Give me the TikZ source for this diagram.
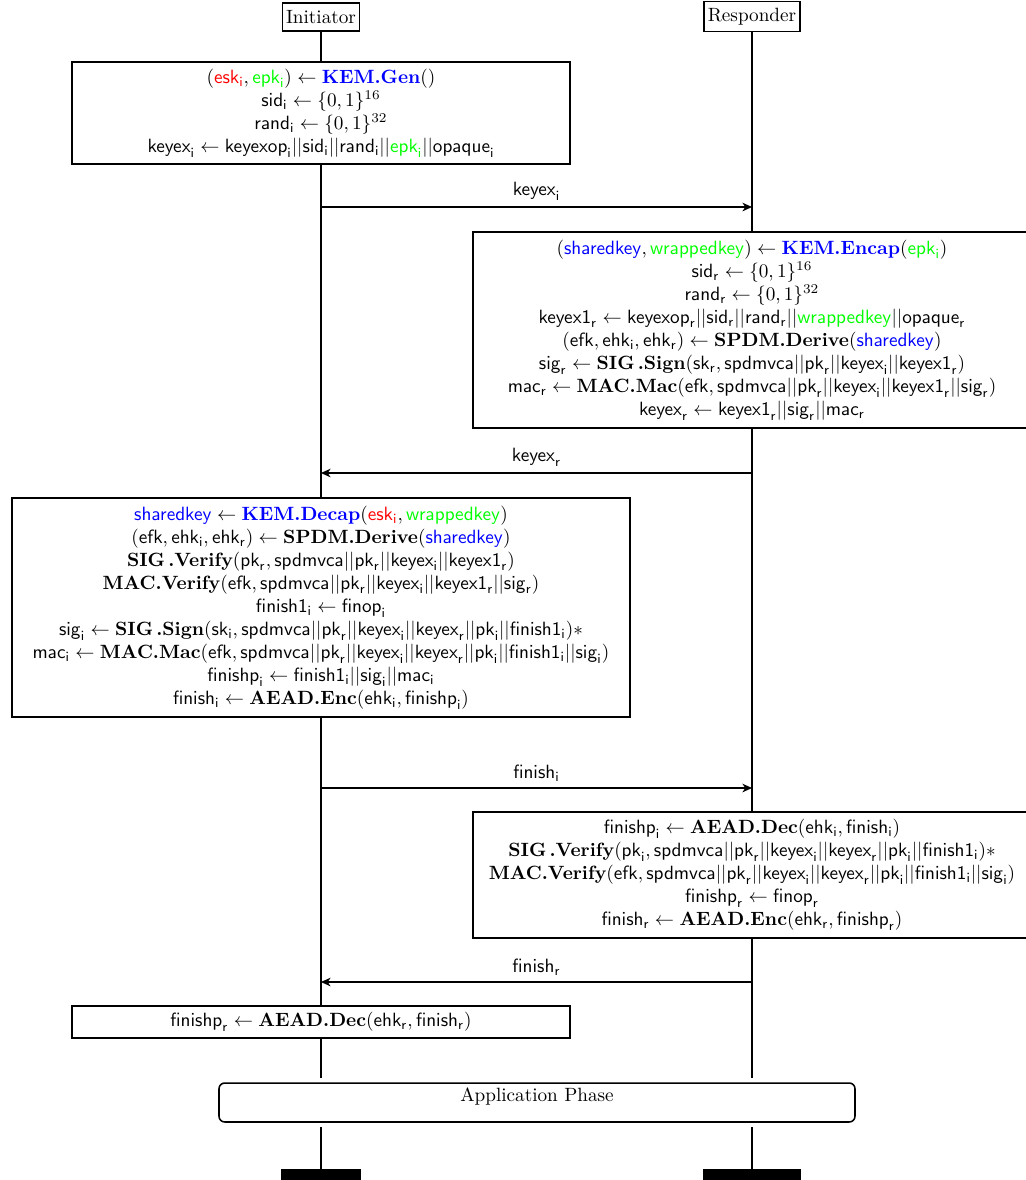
\documentclass[tikz,border=0pt]{standalone}
\usetikzlibrary{arrows.meta}
\newcommand\Nm[1]{\mathsf{#1}}
\newcommand\Si[1]{\mathsf{#1}_{\mathsf{i}}}
\newcommand\Sr[1]{\mathsf{#1}_{\mathsf{r}}}
\newcommand\Op[1]{\textbf{#1}}
\newcommand\Cb[1]{\textcolor{blue}{#1}}
\newcommand\Cr[1]{\textcolor{red}{#1}}
\newcommand\Cg[1]{\textcolor{green}{#1}}
\begin{document}
\begin{tikzpicture}[x=0.5208pt,y=-0.5208pt,
  actor/.style={draw,line width=0.7pt,inner xsep=2pt,minimum height=14.5pt},
  lifeline/.style={line width=1pt},
  box/.style={draw,line width=0.6pt,fill=white,align=center,inner xsep=2pt,inner ysep=1pt},
  msg/.style={line width=0.6pt,-{Stealth[length=5pt,width=4.5pt,inset=1.5pt]}},
  lbl/.style={above,midway},
  endbar/.style={fill=black,draw=none,inner sep=0pt,anchor=north,minimum height=14pt},
  phase/.style={draw,line width=0.8pt,rounded corners=3pt,fill=white,inner ysep=2.4pt,text height=7pt,text depth=8.5pt}]
\clip (0,0) rectangle (1026,1180);

% actors
\node[actor] (ini) at (321,17) {Initiator};
\node[actor] (res) at (752,16.5) {Responder};

% lifeline coordinates
\coordinate (iA) at (321,1078);
\coordinate (rA) at (752,1078);
\coordinate (iB) at (321,1127);
\coordinate (rB) at (752,1127);
\coordinate (iC) at (321,1169);
\coordinate (rC) at (752,1169);

\draw[lifeline] (ini.south) -- (iA);
\draw[lifeline] (res.south) -- (rA);
\draw[lifeline] (iB) -- (iC);
\draw[lifeline] (rB) -- (rC);

% boxes
\node[box,minimum width=498*0.5208pt,minimum height=102*0.5208pt] (b1) at (321,113) {%
$(\Cr{\Si{esk}},\Cg{\Si{epk}})\leftarrow\Cb{\Op{KEM.Gen}}()$\\
$\Si{sid}\leftarrow\{0,1\}^{16}$\\
$\Si{rand}\leftarrow\{0,1\}^{32}$\\
$\Si{keyex}\leftarrow\Si{keyexop}||\Si{sid}||\Si{rand}||\Cg{\Si{epk}}||\Si{opaque}$};

\node[box,minimum width=558*0.5208pt,minimum height=196*0.5208pt] (b2) at (752,330) {%
$(\Cb{\Nm{sharedkey}},\Cg{\Nm{wrappedkey}})\leftarrow\Cb{\Op{KEM.Encap}}(\Cg{\Si{epk}})$\\
$\Sr{sid}\leftarrow\{0,1\}^{16}$\\
$\Sr{rand}\leftarrow\{0,1\}^{32}$\\
$\Sr{keyex1}\leftarrow\Sr{keyexop}||\Sr{sid}||\Sr{rand}||\Cg{\Nm{wrappedkey}}||\Sr{opaque}$\\
$(\Nm{efk},\Si{ehk},\Sr{ehk})\leftarrow\Op{SPDM.Derive}(\Cb{\Nm{sharedkey}})$\\
$\Sr{sig}\leftarrow\Op{SIG\,.Sign}(\Sr{sk},\Nm{spdmvca}||\Sr{pk}||\Si{keyex}||\Sr{keyex1})$\\
$\Sr{mac}\leftarrow\Op{MAC.Mac}(\Nm{efk},\Nm{spdmvca}||\Sr{pk}||\Si{keyex}||\Sr{keyex1}||\Sr{sig})$\\
$\Sr{keyex}\leftarrow\Sr{keyex1}||\Sr{sig}||\Sr{mac}$};

\node[box,minimum width=618*0.5208pt,minimum height=219*0.5208pt] (b3) at (321,607.5) {%
$\Cb{\Nm{sharedkey}}\leftarrow\Cb{\Op{KEM.Decap}}(\Cr{\Si{esk}},\Cg{\Nm{wrappedkey}})$\\
$(\Nm{efk},\Si{ehk},\Sr{ehk})\leftarrow\Op{SPDM.Derive}(\Cb{\Nm{sharedkey}})$\\
$\Op{SIG\,.Verify}(\Sr{pk},\Nm{spdmvca}||\Sr{pk}||\Si{keyex}||\Sr{keyex1})$\\
$\Op{MAC.Verify}(\Nm{efk},\Nm{spdmvca}||\Sr{pk}||\Si{keyex}||\Sr{keyex1}||\Sr{sig})$\\
$\Si{finish1}\leftarrow\Si{finop}$\\
$\Si{sig}\leftarrow\Op{SIG\,.Sign}(\Si{sk},\Nm{spdmvca}||\Sr{pk}||\Si{keyex}||\Sr{keyex}||\Si{pk}||\Si{finish1})*$\\
$\Si{mac}\leftarrow\Op{MAC.Mac}(\Nm{efk},\Nm{spdmvca}||\Sr{pk}||\Si{keyex}||\Sr{keyex}||\Si{pk}||\Si{finish1}||\Si{sig})$\\
$\Si{finishp}\leftarrow\Si{finish1}||\Si{sig}||\Si{mac}$\\
$\Si{finish}\leftarrow\Op{AEAD.Enc}(\Si{ehk},\Si{finishp})$};

\node[box,minimum width=558*0.5208pt,minimum height=126*0.5208pt] (b4) at (752,875) {%
$\Si{finishp}\leftarrow\Op{AEAD.Dec}(\Si{ehk},\Si{finish})$\\
$\Op{SIG\,.Verify}(\Si{pk},\Nm{spdmvca}||\Sr{pk}||\Si{keyex}||\Sr{keyex}||\Si{pk}||\Si{finish1})*$\\
$\Op{MAC.Verify}(\Nm{efk},\Nm{spdmvca}||\Sr{pk}||\Si{keyex}||\Sr{keyex}||\Si{pk}||\Si{finish1}||\Si{sig})$\\
$\Sr{finishp}\leftarrow\Sr{finop}$\\
$\Sr{finish}\leftarrow\Op{AEAD.Enc}(\Sr{ehk},\Sr{finishp})$};

\node[box,minimum width=498*0.5208pt,minimum height=32*0.5208pt] (b5) at (321,1022) {%
$\Sr{finishp}\leftarrow\Op{AEAD.Dec}(\Sr{ehk},\Sr{finish})$};

% messages
\coordinate (m1i) at (321,207);
\coordinate (m1r) at (752,207);
\coordinate (m2i) at (321,473);
\coordinate (m2r) at (752,473);
\coordinate (m3i) at (321,788);
\coordinate (m3r) at (752,788);
\coordinate (m4i) at (321,982);
\coordinate (m4r) at (752,982);
\draw[msg] (m1i) -- node[lbl] (l1) {$\Si{keyex}$} (m1r);
\draw[msg] (m2r) -- node[lbl] (l2) {$\Sr{keyex}$} (m2i);
\draw[msg] (m3i) -- node[lbl] (l3) {$\Si{finish}$} (m3r);
\draw[msg] (m4r) -- node[lbl] (l4) {$\Sr{finish}$} (m4i);

% application phase
\node[phase,minimum width=636*0.5208pt] (app) at (537,1102.5) {Application Phase};

% end bars
\node[endbar,minimum width=80*0.5208pt] (iend) at (iC) {};
\node[endbar,minimum width=98*0.5208pt] (rend) at (rC) {};
\end{tikzpicture}
\end{document}
